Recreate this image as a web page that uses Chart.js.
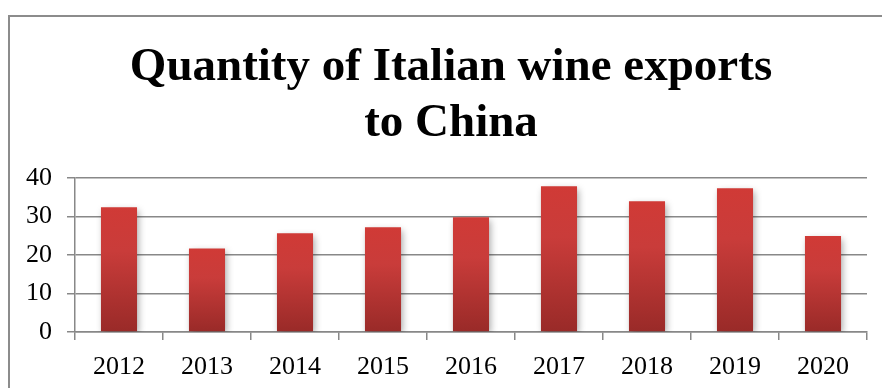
<!DOCTYPE html>
<html>
<head>
<meta charset="utf-8">
<script src="https://cdn.jsdelivr.net/npm/chart.js@4/dist/chart.umd.min.js"></script>
<style>
  html, body { margin: 0; padding: 0; background: #fff; overflow: hidden; }
  #wrap { position: relative; width: 882px; height: 388px; overflow: hidden; }
  #frame { position: absolute; left: 8px; top: 15px; width: 900px; height: 400px;
           border-left: 2px solid #8c8c8c; border-top: 2px solid #8c8c8c; box-sizing: border-box; }
  canvas { position: absolute; left: 0; top: 0; }
</style>
</head>
<body>
<div id="wrap">
  <div id="frame"></div>
  <canvas id="c" width="882" height="388"></canvas>
</div>
<script>
const years = ['2012', '2013', '2014', '2015', '2016', '2017', '2018', '2019', '2020'];
const quantity = [32.4, 21.7, 25.6, 27.2, 29.8, 37.8, 33.9, 37.3, 24.9];
const titleLines = ['Quantity of Italian wine exports', 'to China'];

const serif = '"Liberation Serif", "Times New Roman", serif';

// soft drop shadow under the bars
const barShadow = {
  id: 'barShadow',
  beforeDatasetsDraw(chart) {
    const ctx = chart.ctx;
    ctx.save();
    ctx.shadowColor = 'rgba(0,0,0,0.35)';
    ctx.shadowBlur = 7;
    ctx.shadowOffsetX = 2;
    ctx.shadowOffsetY = 3;
  },
  afterDatasetsDraw(chart) {
    chart.ctx.restore();
  }
};

// centre the title over the frame rather than the whole canvas
const titleSpan = {
  id: 'titleSpan',
  afterLayout(chart) {
    const t = chart.titleBlock;
    if (t) {
      t.left = 35;
      t.right = 867;
      t.width = t.right - t.left;
    }
  }
};

function barGradient(context) {
  const chart = context.chart;
  const y = chart.scales.y;
  if (!y || !chart.chartArea) return '#c03633';
  const v = context.raw;
  const top = y.getPixelForValue(v);
  const bottom = y.getPixelForValue(0);
  const g = chart.ctx.createLinearGradient(0, top, 0, bottom);
  g.addColorStop(0, '#d03a36');
  g.addColorStop(0.35, '#c93c3a');
  g.addColorStop(1, '#992a28');
  return g;
}

new Chart(document.getElementById('c'), {
  type: 'bar',
  data: {
    labels: years,
    datasets: [{
      data: quantity,
      backgroundColor: barGradient,
      borderWidth: 0,
      barPercentage: 0.41,
      categoryPercentage: 1
    }]
  },
  plugins: [barShadow, titleSpan],
  options: {
    responsive: false,
    animation: false,
    events: [],
    layout: { padding: { left: 0, right: 15, top: 0, bottom: 0 } },
    plugins: {
      legend: { display: false },
      tooltip: { enabled: false },
      title: {
        display: true,
        text: titleLines,
        color: '#000',
        font: { family: serif, size: 47, weight: 'bold', lineHeight: 1.19 },
        padding: { top: 40, bottom: 26 }
      }
    },
    scales: {
      x: {
        offset: true,
        afterFit(scale) { scale.height = 56; },
        grid: {
          offset: true,
          drawOnChartArea: false,
          drawTicks: true,
          tickLength: 8,
          color: '#888',
          lineWidth: 1.5
        },
        border: { display: true, color: '#888', width: 1.5 },
        ticks: {
          color: '#000',
          padding: 12,
          font: { family: serif, size: 26 }
        }
      },
      y: {
        min: 0,
        max: 40,
        afterFit(scale) { scale.width = 75; },
        grid: {
          color: '#888',
          lineWidth: 1.5,
          tickLength: 8
        },
        border: { display: true, color: '#888', width: 1.5 },
        ticks: {
          stepSize: 10,
          color: '#000',
          padding: 15,
          font: { family: serif, size: 26 }
        }
      }
    }
  }
});
</script>
</body>
</html>
